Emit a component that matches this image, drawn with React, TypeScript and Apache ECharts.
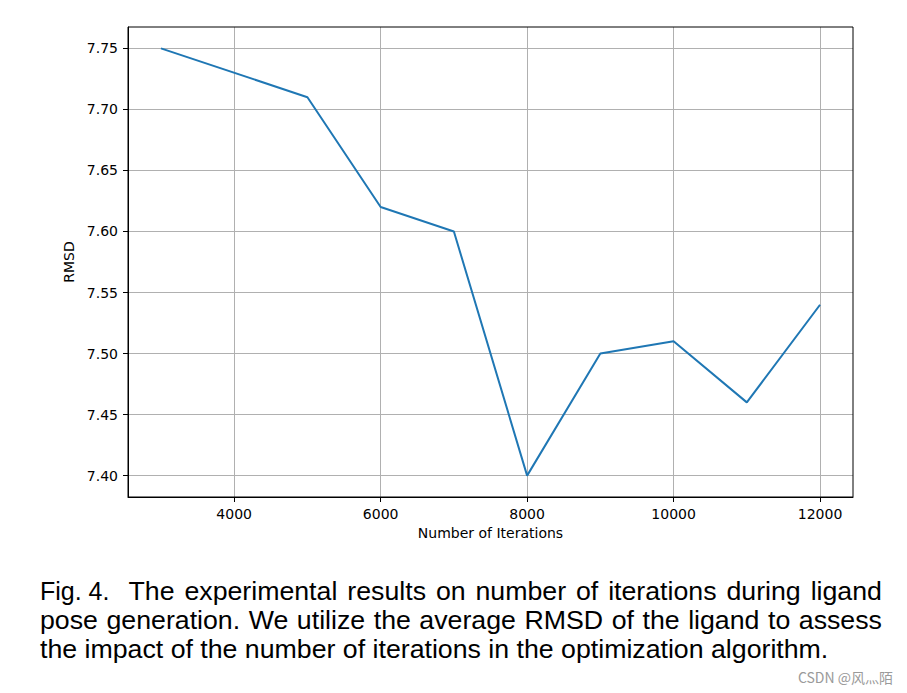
import React, { useEffect, useRef } from "react";
import * as echarts from "echarts";

const iterations = [3000, 5000, 6000, 7000, 8000, 9000, 10000, 11000, 12000];
const rmsd = [7.75, 7.71, 7.62, 7.6, 7.4, 7.5, 7.51, 7.46, 7.54];
const xTicks = [4000, 6000, 8000, 10000, 12000];
const yTicks = [7.4, 7.45, 7.5, 7.55, 7.6, 7.65, 7.7, 7.75];
const xLabel = "Number of Iterations";
const yLabel = "RMSD";
const captionLead = "Fig. 4.";
const captionLines = [
  "The experimental results on number of iterations during ligand",
  "pose generation. We utilize the average RMSD of the ligand to assess",
  "the impact of the number of iterations in the optimization algorithm.",
];
const watermark = "CSDN @风灬陌";

const CAP_FONT_SIZE = 25;
const CAP_FAMILY = "'Liberation Sans', Arial, Helvetica, sans-serif";
const AX_FAMILY = "'DejaVu Sans', sans-serif";

function measure(text: string, size: number, family: string): number {
  const c = document.createElement("canvas").getContext("2d");
  if (!c) return text.length * size * 0.5;
  c.font = `${size}px ${family}`;
  return c.measureText(text).width;
}

export default function App() {
  const ref = useRef<HTMLDivElement>(null);
  useEffect(() => {
    if (!ref.current) return;
    const chart = echarts.init(ref.current, null, { renderer: "svg" });

    const lastW = measure(captionLines[2], CAP_FONT_SIZE, CAP_FAMILY);
    const sx = Math.min(1.15, Math.max(1, 789 / lastW));

    const capText = (text: string, x: number, y: number, scale = sx) => ({
      type: "text",
      x,
      y,
      scaleX: scale,
      style: {
        text,
        fontSize: CAP_FONT_SIZE,
        fontFamily: CAP_FAMILY,
        fill: "#000",
        verticalAlign: "middle",
        align: "left",
      },
    });

    const justifyWords = (line: string, x0: number, x1: number, y: number) => {
      const words = line.split(" ");
      const widths = words.map((w) => measure(w, CAP_FONT_SIZE, CAP_FAMILY) * sx);
      const total = widths.reduce((a, b) => a + b, 0);
      const gap = (x1 - x0 - total) / (words.length - 1);
      const els: any[] = [];
      let x = x0;
      words.forEach((w, i) => {
        els.push(capText(w, x, y));
        x += widths[i] + gap;
      });
      return els;
    };

    const Y1 = 591;
    const Y2 = 620;
    const Y3 = 649.5;

    const graphics: any[] = [
      {
        type: "rect",
        z: 100,
        silent: true,
        shape: { x: 128, y: 27, width: 725, height: 470 },
        style: { fill: "none", stroke: "#000", lineWidth: 1 },
      },
      capText(captionLead, 40, Y1, 1),
      ...justifyWords(captionLines[0], 128.5, 882, Y1),
      ...justifyWords(captionLines[1], 40, 882, Y2),
      capText(captionLines[2], 40, Y3),
      {
        type: "text",
        x: 893,
        y: 677,
        style: {
          text: watermark,
          fontSize: 14,
          fontFamily: "'Noto Sans CJK SC', 'Noto Sans', sans-serif",
          fill: "#9a9a9a",
          align: "right",
          verticalAlign: "middle",
        },
      },
    ];
    chart.setOption({
      animation: false,
      backgroundColor: "#fff",
      grid: { left: 128, top: 27, width: 725, height: 470, containLabel: false },
      xAxis: {
        type: "value",
        min: 2550,
        max: 12450,
        splitNumber: 5,
        name: xLabel,
        nameLocation: "middle",
        nameGap: 29,
        nameTextStyle: { fontFamily: AX_FAMILY, fontSize: 14, color: "#000" },
        axisLine: { show: true, onZero: false, lineStyle: { color: "#000", width: 1 } },
        axisTick: {
          show: true,
          length: 5,
          lineStyle: { color: "#000", width: 1 },
          customValues: xTicks,
        },
        axisLabel: {
          margin: 10,
          fontFamily: AX_FAMILY,
          fontSize: 14,
          color: "#000",
          customValues: xTicks,
          formatter: (v: number) => String(v),
        },
        splitLine: { show: true, lineStyle: { color: "#b0b0b0", width: 1 } },
      },
      yAxis: {
        type: "value",
        min: 7.3825,
        max: 7.7675,
        splitNumber: 8,
        name: yLabel,
        nameLocation: "middle",
        nameGap: 49,
        nameTextStyle: { fontFamily: AX_FAMILY, fontSize: 14, color: "#000" },
        axisLine: { show: true, onZero: false, lineStyle: { color: "#000", width: 1 } },
        axisTick: {
          show: true,
          length: 5,
          lineStyle: { color: "#000", width: 1 },
          customValues: yTicks,
        },
        axisLabel: {
          margin: 10,
          fontFamily: AX_FAMILY,
          fontSize: 14,
          color: "#000",
          customValues: yTicks,
          formatter: (v: number) => v.toFixed(2),
        },
        splitLine: { show: true, lineStyle: { color: "#b0b0b0", width: 1 } },
      },
      series: [
        {
          type: "line",
          data: iterations.map((x, i) => [x, rmsd[i]]),
          showSymbol: false,
          symbol: "none",
          lineStyle: { color: "#1f77b4", width: 2 },
          itemStyle: { color: "#1f77b4" },
        },
      ],
      graphic: graphics,
    });
    return () => chart.dispose();
  }, []);
  return (
    <div
      ref={ref}
      style={{ position: "fixed", left: 0, top: 0, width: 907, height: 693, background: "#fff" }}
    />
  );
}
